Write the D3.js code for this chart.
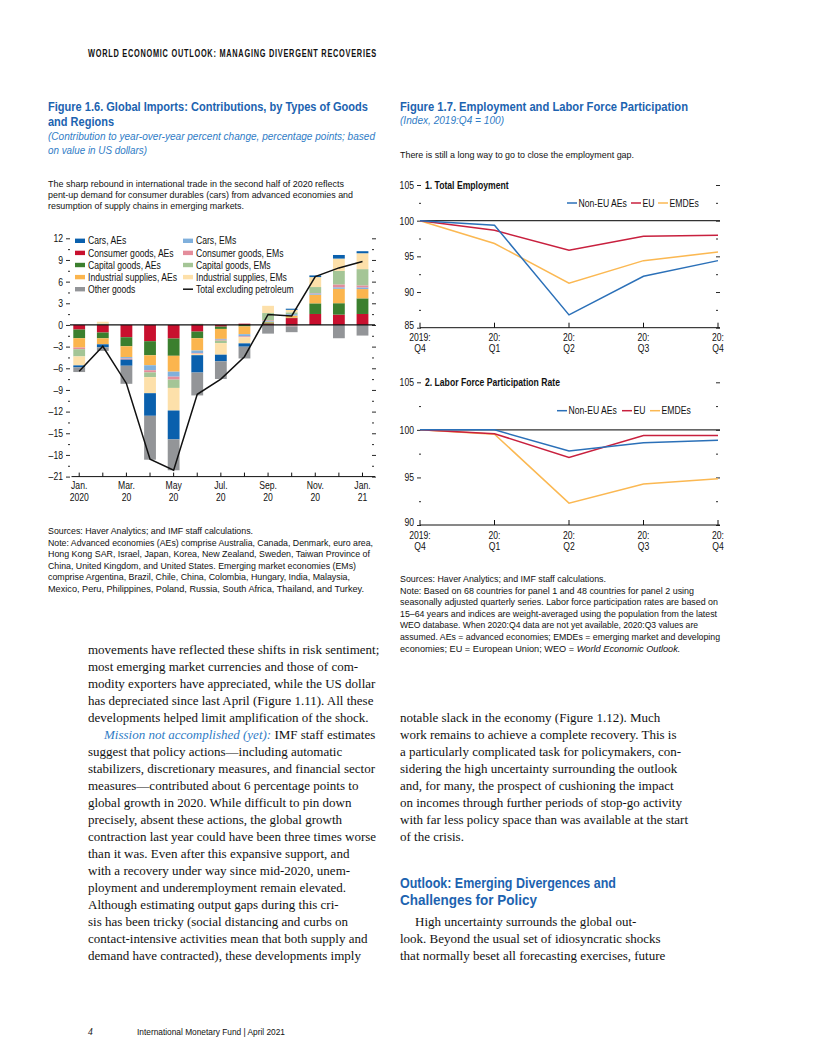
<!DOCTYPE html>
<html>
<head>
<meta charset="utf-8">
<script src="https://cdn.jsdelivr.net/npm/d3@7"></script>
<style>
body { margin: 0; background: #fff; }
svg text { font-family: "Liberation Sans", Arial, sans-serif; fill: #111; }
svg text.serif { font-family: "Liberation Serif", "DejaVu Serif", serif; }
</style>
</head>
<body>
<svg id="page" width="816" height="1056"></svg>
<script>
// ---- Figure 1.6 data (percentage points) ----
const months = ["2020-01","2020-02","2020-03","2020-04","2020-05","2020-06","2020-07","2020-08","2020-09","2020-10","2020-11","2020-12","2021-01"];
const monthTop = ["Jan.","","Mar.","","May","","Jul.","","Sep.","","Nov.","","Jan."];
const monthBottom = ["2020","","20","","20","","20","","20","","20","","21"];

const carsAEs       = [-0.28,-0.41,-0.85,-3.13,-4.00,-2.40,-0.92,-0.46, 0.00, 0.15, 0.23, 0.50, 0.28];
const consumerAEs   = [-0.64,-1.05,-1.70,-2.25,-1.88,-0.92,-0.23, 0.18, 0.20, 0.95, 1.52, 1.43, 1.52];
const capitalAEs    = [-1.20,-0.80,-1.25,-1.95,-2.39,-0.92,-0.32,-0.20, 0.15, 0.05, 1.47, 1.58, 2.16];
const industrialAEs = [-1.29,-0.83,-1.50,-1.38,-2.20,-1.70,-1.38,-1.08, 0.10, 0.30, 1.20, 2.00, 1.29];
const otherGoods    = [-0.64,-0.50,-2.50,-6.08,-4.27,-3.17,-2.44,-1.63,-1.20,-0.80, 0.00,-1.84,-1.47];
const carsEMs       = [ 0.00, 0.00,-0.20,-0.69,-0.69,-0.35,-0.12,-0.30, 0.10, 0.20, 0.18, 0.20, 0.23];
const consumerEMs   = [-0.23, 0.00,-0.15,-0.30,-0.41,-0.10,-0.12,-0.12, 0.10,-0.20, 0.05, 0.40, 0.28];
const capitalEMs    = [-1.00, 0.20, 0.00,-0.66,-1.15, 0.16,-0.35, 0.00, 1.00, 0.25, 0.83, 1.88, 2.25];
const industrialEMs = [-1.24, 0.25, 0.00,-2.22,-3.13,-0.20,-1.60,-0.85, 1.00, 0.35, 1.38, 1.70, 2.20];
const totalExPetroleum = [-6.4,-2.95,-8.1,-18.6,-20.1,-9.6,-7.5,-4.4,1.45,1.25,6.7,7.9,8.8];

const importTicks = [12,9,6,3,0,-3,-6,-9,-12,-15,-18,-21];

// ---- Figure 1.7 data (index, 2019:Q4 = 100) ----
const quarters = ["2019:Q4","2020:Q1","2020:Q2","2020:Q3","2020:Q4"];
const quarterTop = ["2019:","20:","20:","20:","20:"];
const quarterBottom = ["Q4","Q1","Q2","Q3","Q4"];
const empNonEU = [100, 99.35, 86.8, 92.2, 94.4];
const empEU    = [100, 98.65, 95.85, 97.8, 97.97];
const empEMDE  = [100, 96.8, 91.25, 94.4, 95.6];
const lfpNonEU = [100, 100.0, 97.78, 98.65, 98.92];
const lfpEU    = [100, 99.6, 97.1, 99.4, 99.4];
const lfpEMDE  = [100, 99.55, 92.3, 94.3, 94.85];
const empTicks = [85,90,95,100,105];
const lfpTicks = [90,95,100,105];

const svg = d3.select("#page");
const blue = "#1c63b0", lightBlue = "#2f7cc6";
const NARROW = 0.82; // no narrow face installed: squeeze Arial-metric text

function txt(x, y, s, o) {
  o = o || {};
  const t = svg.append("text").attr("x", x).attr("y", y).text(s)
    .style("font-size", (o.size || 10) + "px");
  if (o.weight) t.style("font-weight", o.weight);
  if (o.italic) t.style("font-style", "italic");
  if (o.color) t.style("fill", o.color);
  if (o.len) t.attr("textLength", o.len).attr("lengthAdjust", "spacingAndGlyphs");
  if (o.anchor) t.attr("text-anchor", o.anchor);
  if (o.cls) t.attr("class", o.cls);
  if (o.ls) t.style("letter-spacing", o.ls);
  return t;
}

function squeeze(sel) {
  sel.each(function() {
    const w = this.getComputedTextLength();
    if (w > 0) d3.select(this).attr("textLength", w * NARROW).attr("lengthAdjust", "spacingAndGlyphs");
  });
}

// page header
txt(88, 56.5, "WORLD ECONOMIC OUTLOOK: MANAGING DIVERGENT RECOVERIES", {size: 10, weight: 600, len: 289, ls: "1px"});

// ---------------- Figure 1.6 ----------------
txt(48, 111, "Figure 1.6.  Global Imports: Contributions, by Types of Goods", {size: 12.6, weight: "bold", color: blue, len: 320});
txt(48, 126, "and Regions", {size: 12.6, weight: "bold", color: blue, len: 66});
txt(48, 140, "(Contribution to year-over-year percent change, percentage points; based", {size: 10.5, italic: true, color: lightBlue, len: 327});
txt(48, 153.5, "on value in US dollars)", {size: 10.5, italic: true, color: lightBlue, len: 99});
txt(48, 187, "The sharp rebound in international trade in the second half of 2020 reflects", {size: 9.8, len: 296});
txt(48, 198, "pent-up demand for consumer durables (cars) from advanced economies and", {size: 9.8, len: 305});
txt(48, 209, "resumption of supply chains in emerging markets.", {size: 9.8, len: 196});

(function importsChart() {
  const g = svg.append("g");
  const x = d3.scaleBand().domain(months).range([67.4, 374.3]).paddingInner(0.5).paddingOuter(0.25);
  const y = d3.scaleLinear().domain([-21, 12]).range([476.6, 238.3]);
  const cx = m => x(m) + x.bandwidth() / 2;

  const series = [
    {key: "consumerAEs", name: "Consumer goods, AEs", values: consumerAEs, color: "#c8102e"},
    {key: "capitalAEs", name: "Capital goods, AEs", values: capitalAEs, color: "#3b7f2e"},
    {key: "industrialAEs", name: "Industrial supplies, AEs", values: industrialAEs, color: "#fbb54e"},
    {key: "carsEMs", name: "Cars, EMs", values: carsEMs, color: "#80b0dc"},
    {key: "consumerEMs", name: "Consumer goods, EMs", values: consumerEMs, color: "#e48d9b"},
    {key: "capitalEMs", name: "Capital goods, EMs", values: capitalEMs, color: "#a4c596"},
    {key: "industrialEMs", name: "Industrial supplies, EMs", values: industrialEMs, color: "#fde0aa"},
    {key: "carsAEs", name: "Cars, AEs", values: carsAEs, color: "#0a60ad"},
    {key: "otherGoods", name: "Other goods", values: otherGoods, color: "#939598"}
  ];
  const rows = months.map((m, i) => {
    const r = {month: m};
    series.forEach(s => { r[s.key] = s.values[i]; });
    return r;
  });
  const stacked = d3.stack().keys(series.map(s => s.key)).offset(d3.stackOffsetDiverging)(rows);

  g.selectAll("g.layer").data(stacked).enter().append("g")
    .attr("fill", (d, i) => series[i].color)
    .selectAll("rect").data(d => d).enter().append("rect")
    .attr("x", d => x(d.data.month))
    .attr("width", x.bandwidth())
    .attr("y", d => y(Math.max(d[0], d[1])))
    .attr("height", d => Math.abs(y(d[0]) - y(d[1])));

  // zero line
  g.append("line").attr("x1", 70).attr("x2", 375).attr("y1", y(0)).attr("y2", y(0))
    .attr("stroke", "#111").attr("stroke-width", 1.2);

  // total line
  g.append("path").datum(totalExPetroleum)
    .attr("fill", "none").attr("stroke", "#111").attr("stroke-width", 1.5)
    .attr("d", d3.line().x((d, i) => cx(months[i])).y(d => y(d)));

  // y axes
  const minors = d3.range(-19.5, 12, 3);
  const left = g.append("g").attr("transform", "translate(70,0)")
    .call(d3.axisLeft(y).tickValues(importTicks).tickSize(4).tickPadding(3)
      .tickFormat(d => d < 0 ? "\u2013" + Math.abs(d) : d));
  left.append("g").call(d3.axisLeft(y).tickValues(minors).tickSize(2).tickFormat(""));
  const right = g.append("g").attr("transform", "translate(372,0)")
    .call(d3.axisRight(y).tickValues(importTicks).tickSize(4).tickFormat(""));
  right.append("g").call(d3.axisRight(y).tickValues(minors).tickSize(2).tickFormat(""));
  [left, right].forEach(a => {
    a.selectAll(".domain").remove();
    a.selectAll("line").attr("stroke", "#111").attr("stroke-width", 0.9);
    a.selectAll("text").style("font-size", "10.5px").style("fill", "#111")
      .style("font-family", '"Liberation Sans", Arial, sans-serif');
  });
  squeeze(left.selectAll("text"));

  // x axis
  const bottom = g.append("g").attr("transform", `translate(0,${y(-21)})`);
  bottom.append("line").attr("x1", 71.5).attr("x2", 375).attr("stroke", "#111").attr("stroke-width", 1);
  bottom.selectAll("line.tk").data(months).enter().append("line").attr("class", "tk")
    .attr("x1", cx).attr("x2", cx).attr("y1", 0).attr("y2", -4).attr("stroke", "#111");
  bottom.selectAll("text.t1").data(months).enter().append("text")
    .attr("x", cx).attr("y", 12.5).attr("text-anchor", "middle")
    .style("font-size", "10.5px").text((d, i) => monthTop[i]);
  bottom.selectAll("text.t2").data(months).enter().append("text")
    .attr("x", cx).attr("y", 24.5).attr("text-anchor", "middle")
    .style("font-size", "10.5px").text((d, i) => monthBottom[i]);
  squeeze(bottom.selectAll("text"));

  // legend
  const byKey = {};
  series.forEach(s => { byKey[s.key] = s; });
  const col1 = ["carsAEs", "consumerAEs", "capitalAEs", "industrialAEs", "otherGoods"];
  const col2 = ["carsEMs", "consumerEMs", "capitalEMs", "industrialEMs"];
  const rowY = i => 240.8 + i * 12.1;
  const leg = g.append("g");
  col1.forEach((k, i) => {
    leg.append("rect").attr("x", 75).attr("y", rowY(i) - 2.2).attr("width", 10).attr("height", 4.4).attr("fill", byKey[k].color);
    leg.append("text").attr("x", 88).attr("y", rowY(i) + 3.6).style("font-size", "10.5px").text(byKey[k].name);
  });
  col2.forEach((k, i) => {
    leg.append("rect").attr("x", 183).attr("y", rowY(i) - 2.2).attr("width", 10).attr("height", 4.4).attr("fill", byKey[k].color);
    leg.append("text").attr("x", 196).attr("y", rowY(i) + 3.6).style("font-size", "10.5px").text(byKey[k].name);
  });
  leg.append("line").attr("x1", 183).attr("x2", 193).attr("y1", rowY(4)).attr("y2", rowY(4)).attr("stroke", "#111").attr("stroke-width", 1.5);
  leg.append("text").attr("x", 196).attr("y", rowY(4) + 3.6).style("font-size", "10.5px").text("Total excluding petroleum");
  squeeze(leg.selectAll("text"));
})();

txt(48, 534, "Sources: Haver Analytics; and IMF staff calculations.", {size: 9.8, len: 205});
[
  ["Note: Advanced economies (AEs) comprise Australia, Canada, Denmark, euro area,", 325],
  ["Hong Kong SAR, Israel, Japan, Korea, New Zealand, Sweden, Taiwan Province of", 322],
  ["China, United Kingdom, and United States. Emerging market economies (EMs)", 308],
  ["comprise Argentina, Brazil, Chile, China, Colombia, Hungary, India, Malaysia,", 302],
  ["Mexico, Peru, Philippines, Poland, Russia, South Africa, Thailand, and Turkey.", 316]
].forEach((l, i) => txt(48, 545.5 + i * 11.5, l[0], {size: 9.8, len: l[1]}));

// ---------------- Figure 1.7 ----------------
txt(400, 111, "Figure 1.7.  Employment and Labor Force Participation", {size: 13.5, weight: "bold", color: blue, len: 288});
txt(400, 124, "(Index, 2019:Q4 = 100)", {size: 10.5, italic: true, color: lightBlue, len: 104});
txt(400, 157.5, "There is still a long way to go to close the employment gap.", {size: 9.8, len: 234});

function panel(o) {
  const g = svg.append("g");
  const x = d3.scalePoint().domain(quarters).range([420, 718]);
  const y = d3.scaleLinear().domain([o.ticks[0], 105]).range([o.bottom, o.top]);
  const minors = o.ticks.slice(0, -1).map(d => d + 2.5);

  const left = g.append("g").attr("transform", "translate(421,0)")
    .call(d3.axisLeft(y).tickValues(o.ticks).tickSize(4).tickPadding(3));
  left.append("g").call(d3.axisLeft(y).tickValues(minors).tickSize(2).tickFormat(""));
  const right = g.append("g").attr("transform", "translate(716,0)")
    .call(d3.axisRight(y).tickValues(o.ticks).tickSize(4).tickFormat(""));
  right.append("g").call(d3.axisRight(y).tickValues(minors).tickSize(2).tickFormat(""));
  [left, right].forEach(a => {
    a.selectAll(".domain").remove();
    a.selectAll("line").attr("stroke", "#111").attr("stroke-width", 0.9);
    a.selectAll("text").style("font-size", "10.5px").style("fill", "#111")
      .style("font-family", '"Liberation Sans", Arial, sans-serif');
  });
  // lowest label sits on the axis corner, lift it clear of the date labels
  left.selectAll(".tick").filter(d => d === o.ticks[0]).select("text").attr("dy", "0.05em");
  squeeze(left.selectAll("text"));

  // x axis
  const bottom = g.append("g").attr("transform", `translate(0,${o.bottom})`);
  bottom.append("line").attr("x1", 420).attr("x2", 720).attr("stroke", "#111").attr("stroke-width", 1);
  bottom.selectAll("line.tk").data(quarters).enter().append("line").attr("class", "tk")
    .attr("x1", d => x(d)).attr("x2", d => x(d)).attr("y1", 0).attr("y2", -5).attr("stroke", "#111");
  bottom.selectAll("text.t1").data(quarters).enter().append("text")
    .attr("x", d => x(d)).attr("y", 13.8).attr("text-anchor", "middle")
    .style("font-size", "10.5px").text((d, i) => quarterTop[i]);
  bottom.selectAll("text.t2").data(quarters).enter().append("text")
    .attr("x", d => x(d)).attr("y", 24.8).attr("text-anchor", "middle")
    .style("font-size", "10.5px").text((d, i) => quarterBottom[i]);
  squeeze(bottom.selectAll("text"));

  // 100 reference
  g.append("line").attr("x1", 420).attr("x2", 720).attr("y1", y(100)).attr("y2", y(100))
    .attr("stroke", "#333").attr("stroke-width", 1.3);

  const line = d3.line().x((d, i) => x(quarters[i])).y(d => y(d));
  o.series.forEach(s => {
    g.append("path").datum(s.values).attr("fill", "none").attr("stroke", s.color)
      .attr("stroke-width", 1.5).attr("d", line);
  });

  squeeze(g.append("text").attr("x", 425).attr("y", y(105) + 3.5).style("font-size", "10.5px")
    .style("font-weight", "bold").text(o.title));

  // legend
  o.series.slice().reverse().forEach((s, i) => {
    const lx = o.legendX[i];
    g.append("line").attr("x1", lx).attr("x2", lx + 10).attr("y1", o.legendY).attr("y2", o.legendY)
      .attr("stroke", s.color).attr("stroke-width", 1.5);
    squeeze(g.append("text").attr("x", lx + 11.5).attr("y", o.legendY + 3.6).style("font-size", "10.5px").text(s.name));
  });
}

const cNonEU = "#2b70b8", cEU = "#c8203e", cEMDE = "#fbb852";
panel({
  top: 185, bottom: 327.7, ticks: empTicks, title: "1. Total Employment",
  legendY: 203, legendX: [567, 631, 658],
  series: [
    {name: "EMDEs", values: empEMDE, color: cEMDE},
    {name: "EU", values: empEU, color: cEU},
    {name: "Non-EU AEs", values: empNonEU, color: cNonEU}
  ]
});
panel({
  top: 382.3, bottom: 525, ticks: lfpTicks, title: "2. Labor Force Participation Rate",
  legendY: 410.7, legendX: [557, 622, 650],
  series: [
    {name: "EMDEs", values: lfpEMDE, color: cEMDE},
    {name: "EU", values: lfpEU, color: cEU},
    {name: "Non-EU AEs", values: lfpNonEU, color: cNonEU}
  ]
});

txt(400, 582, "Sources: Haver Analytics; and IMF staff calculations.", {size: 9.8, len: 206});
[
  ["Note: Based on 68 countries for panel 1 and 48 countries for panel 2 using", 294],
  ["seasonally adjusted quarterly series. Labor force participation rates are based on", 318],
  ["15\u201364 years and indices are weight-averaged using the population from the latest", 317],
  ["WEO database. When 2020:Q4 data are not yet available, 2020:Q3 values are", 298],
  ["assumed. AEs = advanced economies; EMDEs = emerging market and developing", 320]
].forEach((l, i) => txt(400, 593.6 + i * 11.6, l[0], {size: 9.8, len: l[1]}));
const lastNote = txt(400, 651.6, "economies; EU = European Union; WEO = ", {size: 9.2});
lastNote.append("tspan").style("font-style", "italic").text("World Economic Outlook.");

// ---------------- body text ----------------
const leftCol = [
  "movements have reflected these shifts in risk sentiment;",
  "most emerging market currencies and those of com-",
  "modity exporters have appreciated, while the US dollar",
  "has depreciated since last April (Figure 1.11). All these",
  "developments helped limit amplification of the shock.",
  null,
  "suggest that policy actions\u2014including automatic",
  "stabilizers, discretionary measures, and financial sector",
  "measures\u2014contributed about 6 percentage points to",
  "global growth in 2020. While difficult to pin down",
  "precisely, absent these actions, the global growth",
  "contraction last year could have been three times worse",
  "than it was. Even after this expansive support, and",
  "with a recovery under way since mid-2020, unem-",
  "ployment and underemployment remain elevated.",
  "Although estimating output gaps during this cri-",
  "sis has been tricky (social distancing and curbs on",
  "contact-intensive activities mean that both supply and",
  "demand have contracted), these developments imply"
];
const lineY = i => 654 + i * 17;
leftCol.forEach((s, i) => {
  if (s === null) {
    const t = txt(104, lineY(i), "", {size: 13, cls: "serif"});
    t.append("tspan").style("font-style", "italic").style("fill", lightBlue).text("Mission not accomplished (yet):");
    t.append("tspan").text(" IMF staff estimates");
  } else {
    txt(88, lineY(i), s, {size: 13, cls: "serif"});
  }
});

const rightCol = [
  [4, "notable slack in the economy (Figure 1.12). Much"],
  [5, "work remains to achieve a complete recovery. This is"],
  [6, "a particularly complicated task for policymakers, con-"],
  [7, "sidering the high uncertainty surrounding the outlook"],
  [8, "and, for many, the prospect of cushioning the impact"],
  [9, "on incomes through further periods of stop-go activity"],
  [10, "with far less policy space than was available at the start"],
  [11, "of the crisis."],
  [17, "look. Beyond the usual set of idiosyncratic shocks"],
  [18, "that normally beset all forecasting exercises, future"]
];
rightCol.forEach(r => txt(400, lineY(r[0]), r[1], {size: 13, cls: "serif"}));
txt(415, lineY(16), "High uncertainty surrounds the global out-", {size: 13, cls: "serif"});
txt(400, 888, "Outlook: Emerging Divergences and", {size: 15, weight: "bold", color: blue, len: 216});
txt(400, 905, "Challenges for Policy", {size: 15, weight: "bold", color: blue, len: 137});

// footer
txt(88, 1035, "4", {size: 9.5, italic: true, cls: "serif"});
txt(137, 1035, "International Monetary Fund | April 2021", {size: 9.5, len: 148});
</script>
</body>
</html>
